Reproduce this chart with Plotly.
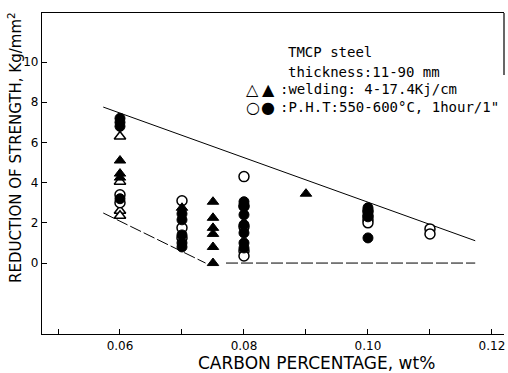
import plotly.graph_objects as go

# ---- data ----
# welding, open triangles
weld_open_x = [0.06, 0.06, 0.06, 0.06]
weld_open_y = [6.3, 4.05, 2.6, 2.35]
# welding, filled triangles
weld_fill_x = [0.06, 0.06, 0.06, 0.07, 0.075, 0.075, 0.075, 0.075, 0.075, 0.075, 0.09]
weld_fill_y = [5.1, 4.45, 4.25, 2.75, 3.05, 2.25, 1.75, 1.45, 0.8, 0.0, 3.45]
# P.H.T, open circles
pht_open_x = [0.06, 0.06, 0.07, 0.07, 0.07, 0.08, 0.08, 0.08, 0.08, 0.08, 0.10, 0.10, 0.10, 0.10, 0.11, 0.11]
pht_open_y = [3.4, 3.0, 3.1, 1.75, 1.25, 4.3, 2.85, 1.8, 0.6, 0.35, 2.6, 2.35, 2.15, 2.0, 1.7, 1.45]
# P.H.T, filled circles
pht_fill_x = [0.06, 0.06, 0.06, 0.06, 0.07, 0.07, 0.07, 0.07, 0.07,
              0.08, 0.08, 0.08, 0.08, 0.08, 0.08, 0.08, 0.10, 0.10, 0.10, 0.10]
pht_fill_y = [7.2, 7.0, 6.8, 3.2, 2.45, 2.15, 1.4, 1.0, 0.8,
              3.05, 2.8, 2.4, 1.9, 1.5, 1.0, 0.75, 2.75, 2.55, 2.3, 1.25]

# envelope lines
upper_x = [0.0573, 0.1173]
upper_y = [7.76, 1.11]
lower_x = [0.0573, 0.0738]
lower_y = [2.49, 0.0]
base_x = [0.0771, 0.1173]
base_y = [0.0, 0.0]

x_ticks = [0.06, 0.08, 0.10, 0.12]
x_ticklabels = ["0.06", "0.08", "0.10", "0.12"]
x_minor_ticks = [0.05, 0.07, 0.09, 0.11]
y_ticks = [0, 2, 4, 6, 8, 10]
y_ticklabels = ["0", "2", "4", "6", "8", "10"]

FONT = "DejaVu Sans"
MONO = "DejaVu Sans Mono"

fig = go.Figure()

line_style = dict(color="black", width=1)
dash_style = dict(color="black", width=1, dash="12px,3px")
fig.add_trace(go.Scatter(x=upper_x, y=upper_y, mode="lines", line=line_style, showlegend=False))
fig.add_trace(go.Scatter(x=lower_x, y=lower_y, mode="lines", line=dash_style, showlegend=False))
fig.add_trace(go.Scatter(x=base_x, y=base_y, mode="lines", line=dash_style, showlegend=False))

open_line = dict(color="black", width=1.5)
fig.add_trace(go.Scatter(x=weld_open_x, y=weld_open_y, mode="markers", showlegend=False,
                         marker=dict(symbol="triangle-up", size=10, color="white", line=open_line)))
fig.add_trace(go.Scatter(x=pht_open_x, y=pht_open_y, mode="markers", showlegend=False,
                         marker=dict(symbol="circle", size=10, color="white", line=open_line)))
fig.add_trace(go.Scatter(x=weld_fill_x, y=weld_fill_y, mode="markers", showlegend=False,
                         marker=dict(symbol="triangle-up", size=10, color="black",
                                     line=dict(color="black", width=1))))
fig.add_trace(go.Scatter(x=pht_fill_x, y=pht_fill_y, mode="markers", showlegend=False,
                         marker=dict(symbol="circle", size=10, color="black",
                                     line=dict(color="black", width=1))))

L, R, T, B = 42, 4, 13, 39
W, H = 508, 373
pw, ph = W - L - R, H - T - B

def px(xp):
    return (xp - L) / pw

def py(yp):
    return (H - B - yp) / ph

txt = dict(family=MONO, size=14, color="black")
sym = dict(family=FONT, size=16, color="black")
ann = []
ann.append(dict(text="TMCP steel", x=px(286), y=py(52), xanchor="left", yanchor="middle", font=txt))
ann.append(dict(text="thickness:11-90 mm", x=px(286), y=py(72), xanchor="left", yanchor="middle", font=txt))
ann.append(dict(text="△", x=px(252), y=py(89), xanchor="center", yanchor="middle", font=sym))
ann.append(dict(text="▲", x=px(268), y=py(89), xanchor="center", yanchor="middle", font=sym))
ann.append(dict(text=":welding: 4-17.4Kj/cm", x=px(278), y=py(89), xanchor="left", yanchor="middle", font=txt))
ann.append(dict(text="○", x=px(253), y=py(107), xanchor="center", yanchor="middle", font=sym))
ann.append(dict(text="●", x=px(268), y=py(107), xanchor="center", yanchor="middle", font=sym))
ann.append(dict(text=":P.H.T:550-600°C, 1hour/1\"", x=px(278), y=py(107), xanchor="left",
                yanchor="middle", font=txt))
ann.append(dict(text="REDUCTION OF STRENGTH, Kg/mm<sup>2</sup>", x=px(15), y=py(148), textangle=-90,
                xanchor="center", yanchor="middle", font=dict(family=FONT, size=15, color="black")))
ann.append(dict(text="CARBON PERCENTAGE, wt%", x=px(316), y=py(363), xanchor="center",
                yanchor="middle", font=dict(family=FONT, size=17, color="black")))
for a in ann:
    a.update(xref="paper", yref="paper", showarrow=False)

fig.update_layout(
    width=W, height=H,
    margin=dict(l=L, r=R, t=T, b=B),
    paper_bgcolor="white", plot_bgcolor="white",
    annotations=ann,
    shapes=[dict(type="line", xref="paper", yref="paper", x0=1, x1=1, y0=1, y1=py(75),
                 line=dict(color="black", width=1.2))],
)
fig.update_xaxes(range=[0.04742, 0.12194], tickmode="array", tickvals=x_ticks, ticktext=x_ticklabels,
                 ticks="inside", ticklen=5, tickcolor="black", showgrid=False, zeroline=False,
                 showline=True, linecolor="black", linewidth=1.2, mirror=True,
                 minor=dict(tickmode="array", tickvals=x_minor_ticks, ticks="inside", ticklen=5,
                            tickcolor="black", showgrid=False),
                 tickfont=dict(family=FONT, size=12, color="black"))
fig.update_yaxes(range=[-3.53, 12.44], tickvals=y_ticks, ticktext=y_ticklabels,
                 ticks="inside", ticklen=5, tickcolor="black", showgrid=False, zeroline=False,
                 showline=True, linecolor="black", linewidth=1.2,
                 tickfont=dict(family=FONT, size=12, color="black"))

fig.write_html("out.html")
